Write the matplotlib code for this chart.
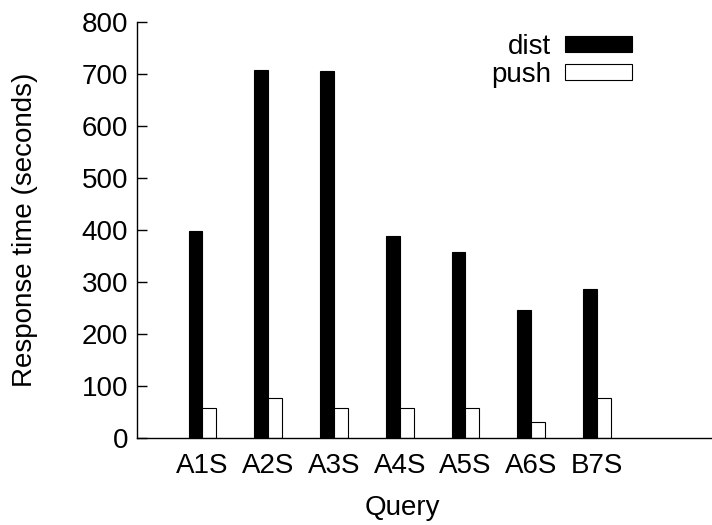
import matplotlib
matplotlib.use("Agg")
import matplotlib.pyplot as plt
import numpy as np

plt.rcParams['font.family'] = ['Liberation Sans', 'DejaVu Sans']

queries = ["A1S", "A2S", "A3S", "A4S", "A5S", "A6S", "B7S"]
dist = [398, 707, 705, 389, 358, 246, 287]
push = [57, 76, 58, 57, 57, 30, 76]
yticks = [0, 100, 200, 300, 400, 500, 600, 700, 800]

FS = 20
W, H = 712, 525
fig = plt.figure(figsize=(W / 100, H / 100), dpi=100)
ax = fig.add_axes([136.7 / W, (H - 438) / H, (W - 136.7) / W, (438 - 21.7) / H])

x = np.arange(1, len(queries) + 1)
bw = 0.21
ax.bar(x - bw, dist, width=bw, align='edge', color='black', edgecolor='black', linewidth=0.8, label='dist')
ax.bar(x, push, width=bw, align='edge', color='white', edgecolor='black', linewidth=0.8, label='push')

ax.set_xlim(0, 8.75)
ax.set_ylim(0, 800)
ax.spines['top'].set_visible(False)
ax.spines['right'].set_visible(False)
ax.spines['left'].set_linewidth(1.0)
ax.spines['bottom'].set_linewidth(1.0)

ax.set_yticks(yticks)
ax.set_yticklabels([str(v) for v in yticks], fontsize=FS)
ax.tick_params(axis='y', direction='in', length=7, width=1.0, pad=6)
ax.set_xticks(x)
ax.set_xticklabels(queries, fontsize=FS)
ax.tick_params(axis='x', length=0, pad=11)

fig.text(25 / W, 1 - 230 / H, "Response time (seconds)", rotation=90,
         ha='center', va='center', fontsize=FS)
fig.text(402 / W, 1 - 508 / H, "Query", ha='center', va='center', fontsize=FS)

leg = ax.legend(loc='upper right', bbox_to_anchor=(632 / W, 1 - 33.5 / H),
                bbox_transform=fig.transFigure, frameon=False, fontsize=FS,
                markerfirst=False, handlelength=2.4, handleheight=0.5,
                handletextpad=0.5, labelspacing=0.1, borderaxespad=0, borderpad=0)

fig.savefig("out.png", dpi=100)
